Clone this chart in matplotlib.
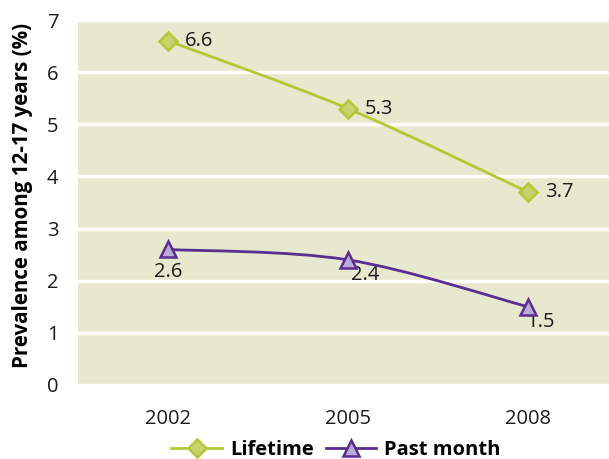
import matplotlib
matplotlib.use('Agg')
import matplotlib.pyplot as plt
from matplotlib.path import Path
from matplotlib.patches import PathPatch
from matplotlib.lines import Line2D
import numpy as np

plt.rcParams['font.family'] = ['Open Sans', 'DejaVu Sans']

years = ['2002', '2005', '2008']
lifetime = [6.6, 5.3, 3.7]
past_month = [2.6, 2.4, 1.5]

green = '#b4c832'
green_face = '#c5d46e'
purple = '#5a2d91'
purple_face = '#b9acd9'


def smooth_path(xs, ys, t=1/6):
    # Catmull-Rom style bezier segments through the points
    pts = np.column_stack([xs, ys]).astype(float)
    verts = [pts[0]]
    codes = [Path.MOVETO]
    n = len(pts)
    for i in range(n - 1):
        p0 = pts[i - 1] if i > 0 else pts[i]
        p1 = pts[i]
        p2 = pts[i + 1]
        p3 = pts[i + 2] if i + 2 < n else pts[i + 1]
        c1 = p1 + (p2 - p0) * t
        c2 = p2 - (p3 - p1) * t
        verts += [c1, c2, p2]
        codes += [Path.CURVE4] * 3
    return Path(verts, codes)


fig = plt.figure(figsize=(6.09, 4.59), dpi=100)
ax = fig.add_axes([78/609, 74/459, 531/609, 365/459])
ax.set_facecolor('#e8e8cf')
x = np.arange(len(years))

for vals, col, face, mk in [
    (lifetime, green, green_face, 'D'),
    (past_month, purple, purple_face, '^'),
]:
    ax.add_patch(PathPatch(smooth_path(x, vals), fill=False, edgecolor=col, lw=2, zorder=3))
    ax.plot(x, vals, linestyle='none', marker=mk, markersize=9 if mk == 'D' else 11,
            markerfacecolor=face, markeredgecolor=col, markeredgewidth=1.8, zorder=4)

for i, v in enumerate(lifetime):
    ax.annotate(f'{v}', (i, v), xytext=(12, 0), textcoords='offset points',
                ha='left', va='center', fontsize=14.5, color='#1a1a1a')
offs = [(0, -16), (2, -11), (-1, -11)]
has = ['center', 'left', 'left']
for i, v in enumerate(past_month):
    ax.annotate(f'{v}', (i, v), xytext=offs[i], textcoords='offset points',
                ha=has[i], va='center', fontsize=14.5, color='#1a1a1a', zorder=2)

ax.set_xlim(-0.5, 2.45)
ax.set_ylim(0, 7)
ax.set_xticks(x)
ax.set_xticklabels(years)
ax.set_yticks(range(8))
ax.tick_params(length=0, labelsize=14.5, colors='#1a1a1a', pad=14)
ax.tick_params(axis='x', pad=17)
ax.grid(axis='y', color='white', lw=2.5)
ax.set_axisbelow(True)
for s in ax.spines.values():
    s.set_visible(False)
ax.set_ylabel('Prevalence among 12-17 years (%)', fontsize=14.8, fontweight='bold')
ax.yaxis.set_label_coords(-0.085, 0.52)

handles = [
    Line2D([], [], color=green, lw=2, marker='D', markersize=9,
           markerfacecolor=green_face, markeredgecolor=green, markeredgewidth=1.8),
    Line2D([], [], color=purple, lw=2, marker='^', markersize=11,
           markerfacecolor=purple_face, markeredgecolor=purple, markeredgewidth=1.8),
]
fig.legend(handles, ['Lifetime', 'Past month'], loc='center', bbox_to_anchor=(336/609, 9/459),
           ncol=2, frameon=False, handlelength=2.5, columnspacing=0.6, handletextpad=0.4,
           prop={'size': 14.5, 'weight': 'bold'})

fig.savefig('out.png', dpi=100)
